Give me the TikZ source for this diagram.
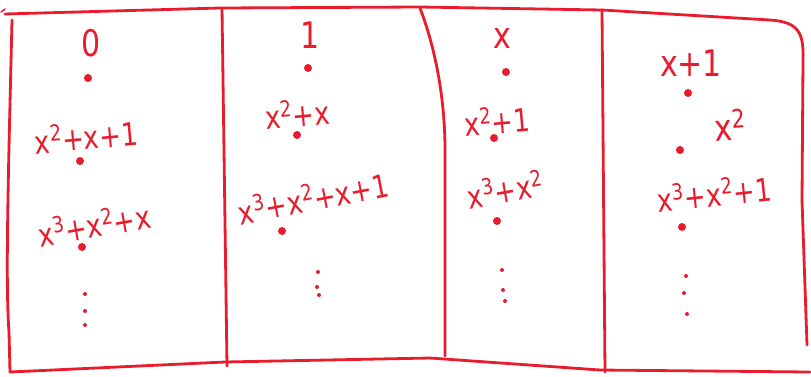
\documentclass[tikz,border=0pt]{standalone}
\usepackage{fontspec}
\usepackage{graphicx}
\setmainfont{DejaVu Sans}
\definecolor{ink}{RGB}{232,28,44}
\tikzset{
  frame/.style={draw=ink, line width=2.8pt, line cap=round, line join=round},
  lbl/.style={text=ink, inner sep=0pt, font=\fontsize{26}{28}\selectfont},
  biglbl/.style={lbl, font=\fontsize{30}{32}\selectfont},
  pt/.style={circle, fill=ink, inner sep=0pt, minimum size=8pt},
  sm/.style={circle, fill=ink, inner sep=0pt, minimum size=4pt}
}
\newcommand{\sq}[1]{\textsuperscript{#1}}
\newcommand{\hw}[1]{\scalebox{1}[1.22]{#1}}
\begin{document}
\begin{tikzpicture}[x=1pt,y=-1pt]
\useasboundingbox (0,0) rectangle (811,376);
% frame
\draw[frame] (5,14) -- (220,8) -- (420,7) -- (602,10) -- (770,20) .. controls (798,22) and (804,32) .. (803,60) -- (802,200) -- (807,345);
\draw[frame] (12,20) .. controls (9,150) and (5,280) .. (9,332) -- (10,372) -- (225,362) -- (430,358) -- (600,370) -- (810,372);
\draw[frame, line width=1.5pt] (1,12) -- (5,9);
\draw[frame] (222,8) -- (227,366);
\draw[frame] (420,8) .. controls (436,50) and (445,100) .. (445,150) -- (445,356);
\draw[frame] (602,10) -- (605,372);
% column 1
\node[biglbl] (a0) at (91,43) {\hw{0}};
\node[pt] (a1) at (88,78) {};
\node[lbl, rotate=5] (a2) at (86,136) {\hw{x\sq{2}+x+1}};
\node[pt] (a3) at (80,161) {};
\node[lbl, rotate=10] (a4) at (94,224) {\hw{x\sq{3}+x\sq{2}+x}};
\node[pt] (a5) at (82,247) {};
\node[sm] (a6) at (85,294) {};
\node[sm] (a7) at (85,311) {};
\node[sm] (a8) at (85,325) {};
% column 2
\node[biglbl] (b0) at (310,35) {\hw{1}};
\node[pt] (b1) at (308,68) {};
\node[lbl, rotate=5] (b2) at (297,113) {\hw{x\sq{2}+x}};
\node[pt] (b3) at (297,135) {};
\node[lbl, rotate=11] (b4) at (313,197) {\hw{x\sq{3}+x\sq{2}+x+1}};
\node[pt] (b5) at (282,231) {};
\node[sm] (b6) at (318,272) {};
\node[sm] (b7) at (317,287) {};
\node[sm] (b8) at (319,295) {};
% column 3
\node[biglbl] (c0) at (502,38) {\hw{x}};
\node[pt] (c1) at (506,72) {};
\node[lbl, rotate=5] (c2) at (497,120) {\hw{x\sq{2}+1}};
\node[pt] (c3) at (494,138) {};
\node[lbl, rotate=10] (c4) at (505,189) {\hw{x\sq{3}+x\sq{2}}};
\node[pt] (c5) at (497,221) {};
\node[sm] (c6) at (502,270) {};
\node[sm] (c7) at (503,290) {};
\node[sm] (c8) at (505,301) {};
% column 4
\node[biglbl] (d0) at (691,63) {\hw{x+1}};
\node[pt] (d1) at (688,93) {};
\node[biglbl, rotate=4] (d2) at (730,125) {\hw{x\sq{2}}};
\node[pt] (d3) at (680,150) {};
\node[lbl, rotate=6] (d4) at (714,193) {\hw{x\sq{3}+x\sq{2}+1}};
\node[pt] (d5) at (682,227) {};
\node[sm] (d6) at (686,276) {};
\node[sm] (d7) at (684,293) {};
\node[sm] (d8) at (687,314) {};
\end{tikzpicture}
\end{document}
